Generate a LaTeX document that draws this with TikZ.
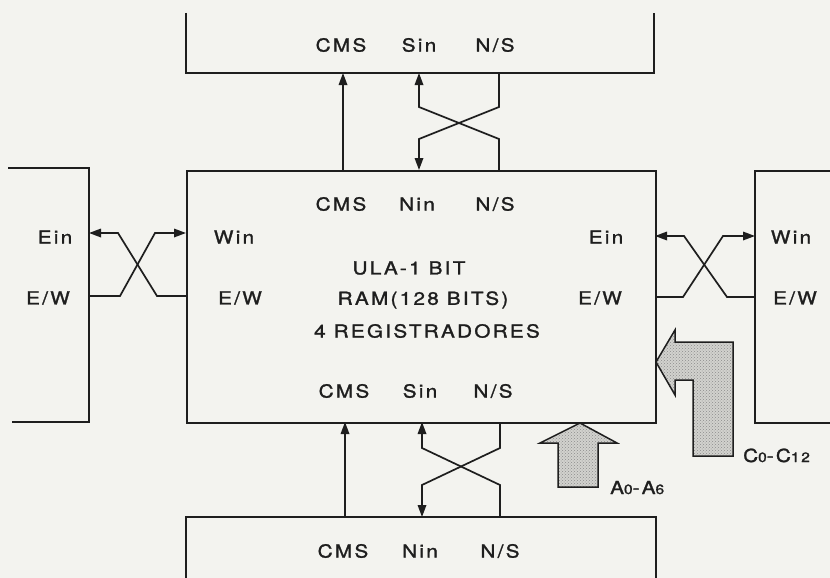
\documentclass[tikz,border=0pt]{standalone}
\usepackage{fontspec}
\usepackage{graphicx}
\setmainfont{TeX Gyre Heros}[LetterSpace=11, FakeBold=1.3]
\usetikzlibrary{arrows.meta,patterns}
\definecolor{paper}{HTML}{F3F3EF}
\definecolor{ink}{HTML}{1E1E1E}
\definecolor{stip}{HTML}{D2D2CE}
\newcommand\sbs[1]{{\fontsize{13.5}{16}\selectfont #1}}
\newcommand\tx[1]{\scalebox{1.15}[1]{#1}}
\tikzset{
  lbl/.style={inner sep=0pt, font=\fontsize{18}{22}\selectfont, text=ink},
  boxline/.style={draw=ink, line width=2pt},
  wire/.style={draw=ink, line width=1.7pt, -{Triangle[length=12pt,width=8.5pt]}},
  bigarrow/.style={draw=ink, line width=1.5pt, preaction={fill=stip}, pattern=crosshatch dots, pattern color=black!45, line join=miter},
}
\begin{document}
\begin{tikzpicture}[x=1pt,y=-1pt]
\fill[paper] (0,0) rectangle (830,578);
\useasboundingbox (0,0) rectangle (830,578);
\clip (0,0) rectangle (830,578);

% main box
\node[boxline, minimum width=469pt, minimum height=252pt, inner sep=0pt, anchor=north west] (main) at (186,170) {};

% neighbour boxes (partly outside the picture)
\draw[boxline] (186,13) -- (186,73) -- (654,73) -- (654,13);
\draw[boxline] (186,590) -- (186,517) -- (656,517) -- (656,590);
\draw[boxline] (8,168) -- (89,168) -- (89,422) -- (12,422);
\draw[boxline] (840,171) -- (755,171) -- (755,423) -- (840,423);

% coordinates on box edges
\coordinate (tCMS) at (343,73);  \coordinate (tSin) at (419,73);  \coordinate (tNS) at (499,73);
\coordinate (mtCMS) at (343,170); \coordinate (mtNin) at (419,170); \coordinate (mtNS) at (499,170);
\coordinate (mbCMS) at (345,422); \coordinate (mbSin) at (422,422); \coordinate (mbNS) at (500,422);
\coordinate (bCMS) at (345,517); \coordinate (bNin) at (422,517); \coordinate (bNS) at (500,517);
\coordinate (lEin) at (89,233); \coordinate (lEW) at (89,296);
\coordinate (mWin) at (186,233); \coordinate (mWEW) at (186,296);
\coordinate (mEin) at (655,236); \coordinate (mEEW) at (655,297);
\coordinate (rWin) at (755,236); \coordinate (rEW) at (755,297);

% top connections
\draw[wire] (mtCMS) -- (tCMS);
\draw[wire] (mtNS) -- (499,139) -- (419,107) -- (tSin);
\draw[wire] (tNS) -- (499,107) -- (419,139) -- (mtNin);
% bottom connections
\draw[wire] (bCMS) -- (mbCMS);
\draw[wire] (bNS) -- (500,485) -- (422,448) -- (mbSin);
\draw[wire] (mbNS) -- (500,448) -- (422,485) -- (bNin);
% left connections
\draw[wire] (mWEW) -- (157,296) -- (118,233) -- (lEin);
\draw[wire] (lEW) -- (120,296) -- (155,233) -- (mWin);
% right connections
\draw[wire] (rEW) -- (727,297) -- (684,236) -- (mEin);
\draw[wire] (mEEW) -- (683,297) -- (723,236) -- (rWin);

% big stippled arrows
\draw[bigarrow] (580,423) coordinate (atip) -- (617,443) -- (598,443) -- (598,487) -- (558,487) -- (558,443) -- (540,443) -- cycle;
\draw[bigarrow] (656,362) coordinate (ctip) -- (675,330) -- (675,342) -- (733,342) -- (733,456) -- (693,456) -- (693,380) -- (675,380) -- (675,395) -- cycle;

% labels: top box
\node[lbl] (t1) at (341,45) {\tx{CMS}};
\node[lbl] (t2) at (419,45) {\tx{Sin}};
\node[lbl] (t3) at (495,45) {\tx{N/S}};
% main box
\node[lbl] (m1) at (341,204) {\tx{CMS}};
\node[lbl] (m2) at (417,204) {\tx{Nin}};
\node[lbl] (m3) at (495,204) {\tx{N/S}};
\node[lbl] (m4) at (234,237) {\tx{Win}};
\node[lbl] (m5) at (240,298) {\tx{E/W}};
\node[lbl] (m6) at (606,237) {\tx{Ein}};
\node[lbl] (m7) at (600,298) {\tx{E/W}};
\node[lbl] (c1) at (409,268) {\tx{ULA-1 BIT}};
\node[lbl] (c2) at (423,300) {\tx{RAM(128 BITS)}};
\node[lbl] (c3) at (427,331) {\tx{4 REGISTRADORES}};
\node[lbl] (m8) at (344,391) {\tx{CMS}};
\node[lbl] (m9) at (420,391) {\tx{Sin}};
\node[lbl] (m10) at (493,391) {\tx{N/S}};
% bottom box
\node[lbl] (b1) at (343,551) {\tx{CMS}};
\node[lbl] (b2) at (420,551) {\tx{Nin}};
\node[lbl] (b3) at (500,551) {\tx{N/S}};
% left box
\node[lbl] (l1) at (55,237) {\tx{Ein}};
\node[lbl] (l2) at (48,298) {\tx{E/W}};
% right box
\node[lbl] (r1) at (791,237) {\tx{Win}};
\node[lbl] (r2) at (795,298) {\tx{E/W}};
% bus labels
\node[lbl, anchor=base west] (aa) at (610,494) {\tx{A\sbs{0}-A\sbs{6}}};
\node[lbl, anchor=base west] (cc) at (743,462) {\tx{C\sbs{0}-C\sbs{12}}};
\end{tikzpicture}
\end{document}
